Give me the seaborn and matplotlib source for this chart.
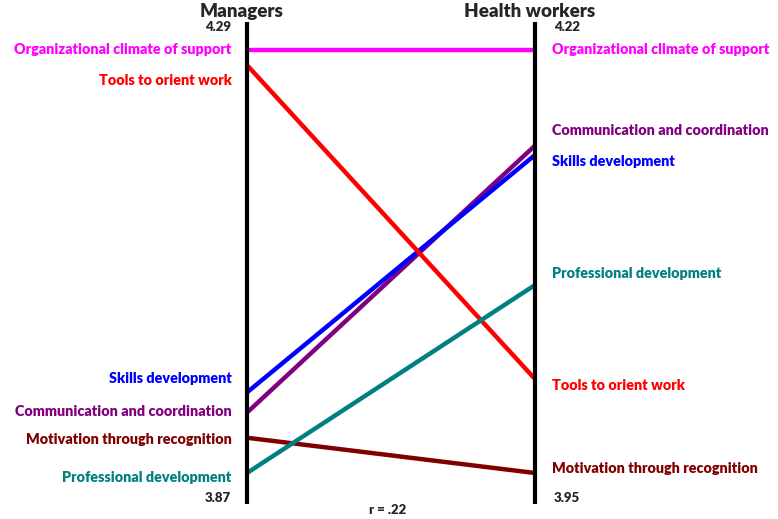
import matplotlib
matplotlib.use("Agg")
import matplotlib.pyplot as plt
import seaborn as sns
import pandas as pd

# values
dimensions = ["Organizational climate of support", "Tools to orient work",
              "Skills development", "Communication and coordination",
              "Motivation through recognition", "Professional development"]
managers = [4.29, 4.275, 3.95, 3.93, 3.905, 3.87]
health_workers = [4.22, 4.01, 4.153, 4.159, 3.95, 4.07]
colors = ["#ff00ff", "#ff0000", "#0000ff", "#800080", "#800000", "#008080"]
left_range = (3.87, 4.29)
right_range = (3.95, 4.22)
r_text = "r = .22"

# label nudges (points) so the labels don't collide
left_offsets = [0, -11, 10, 1, -1, -3]
right_offsets = [0, -5, -5, 11, 3, 8]

sns.set_style("white")
plt.rcParams["font.family"] = ["Lato", "DejaVu Sans"]
plt.rcParams["font.weight"] = "bold"

def scale(v, rng):
    return (v - rng[0]) / (rng[1] - rng[0])

rows = []
for name, m, h in zip(dimensions, managers, health_workers):
    rows.append({"dim": name, "side": 0, "y": scale(m, left_range)})
    rows.append({"dim": name, "side": 1, "y": scale(h, right_range)})
df = pd.DataFrame(rows)

fig = plt.figure(figsize=(7.78, 5.19), dpi=100)
ax = fig.add_axes([0, 0, 1, 1])

order = ["Organizational climate of support", "Communication and coordination",
         "Skills development", "Tools to orient work",
         "Motivation through recognition", "Professional development"]
for name in order:
    sub = df[df["dim"] == name]
    sns.lineplot(data=sub, x="side", y="y", color=colors[dimensions.index(name)],
                 linewidth=3.2, ax=ax, legend=False, sort=False)

# the two vertical axes
ax.plot([0, 0], [-0.073, 1.066], color="black", linewidth=3, solid_capstyle="butt")
ax.plot([1, 1], [-0.073, 1.066], color="black", linewidth=3, solid_capstyle="butt")

for i, name in enumerate(dimensions):
    yl = scale(managers[i], left_range)
    yr = scale(health_workers[i], right_range)
    ax.annotate(name, (0, yl), xytext=(-11, left_offsets[i]), textcoords="offset points",
                ha="right", va="center", color=colors[i], fontsize=10.4, fontweight="heavy")
    ax.annotate(name, (1, yr), xytext=(12, right_offsets[i]), textcoords="offset points",
                ha="left", va="center", color=colors[i], fontsize=10.4, fontweight="heavy")

ax.text(-0.055, 1.055, f"{left_range[1]:.2f}", ha="right", va="center", fontsize=9.5, fontweight="heavy")
ax.text(-0.055, -0.059, f"{left_range[0]:.2f}", ha="right", va="center", fontsize=9.5, fontweight="heavy")
ax.text(1.065, 1.055, f"{right_range[1]:.2f}", ha="left", va="center", fontsize=9.5, fontweight="heavy")
ax.text(1.065, -0.059, f"{right_range[0]:.2f}", ha="left", va="center", fontsize=9.5, fontweight="heavy")

ax.text(-0.02, 1.092, "Managers", ha="center", va="center", fontsize=13.5, fontweight="heavy")
ax.text(0.98, 1.092, "Health workers", ha="center", va="center", fontsize=13.5, fontweight="heavy")
ax.text(0.49, -0.087, r_text, ha="center", va="center", fontsize=9.5, fontweight="heavy")

ax.set_xlim(-247 / 288, (778 - 247) / 288)
ax.set_ylim(-(519 - 473) / 423, 1 + 50 / 423)
ax.axis("off")

fig.savefig("out.png", dpi=100)
